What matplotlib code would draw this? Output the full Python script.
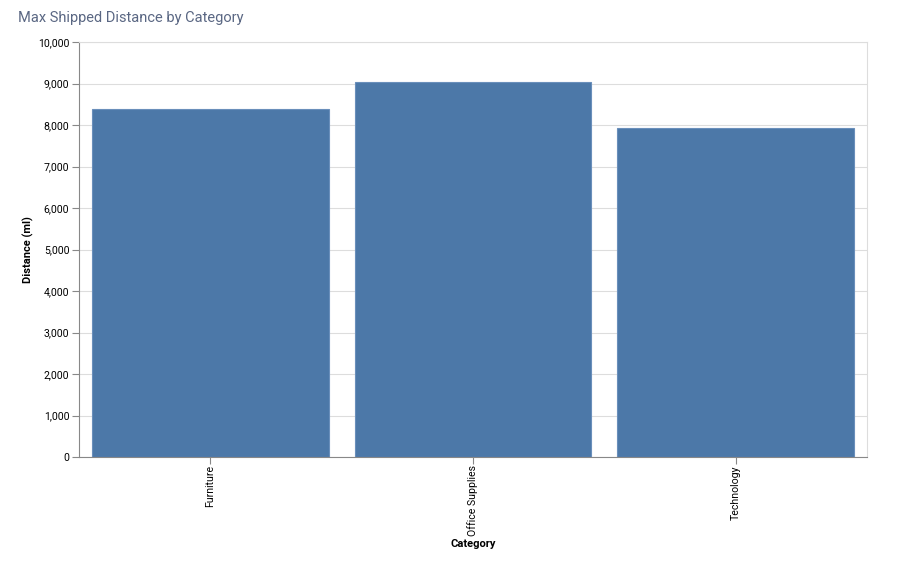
import matplotlib
matplotlib.use('Agg')
import matplotlib.pyplot as plt
from matplotlib.ticker import FuncFormatter, MultipleLocator

categories = ["Furniture", "Office Supplies", "Technology"]
max_distance = [8375, 9040, 7928]

plt.rcParams['font.family'] = ['Roboto', 'DejaVu Sans']

fig = plt.figure(figsize=(9.04, 5.67), dpi=100)
ax = fig.add_axes([79/904, 110/567, 788/904, 415/567])

x = range(len(categories))
ax.bar(x, max_distance, width=0.9, color="#4c78a8", edgecolor="#6a8fbb", linewidth=0.8, zorder=2)

ax.set_xlim(-0.5, len(categories) - 0.5)
ax.set_ylim(0, 10000)
ax.yaxis.set_major_locator(MultipleLocator(1000))
ax.yaxis.set_major_formatter(FuncFormatter(lambda v, p: f"{int(v):,}"))
ax.set_xticks(list(x))
ax.set_xticklabels(categories, rotation=90, fontsize=7.6)
ax.tick_params(axis='y', labelsize=7.6, length=5, width=0.8, color="#888888", pad=2)
ax.tick_params(axis='x', length=5, width=0.8, color="#888888", pad=1)
ax.grid(axis='y', color="#dddddd", linewidth=0.8, zorder=0)
ax.set_axisbelow(True)

for side in ['top', 'right']:
    ax.spines[side].set_color("#dddddd")
    ax.spines[side].set_linewidth(0.8)
for side in ['left', 'bottom']:
    ax.spines[side].set_color("#888888")
    ax.spines[side].set_linewidth(0.8)

ax.set_xlabel("Category", fontsize=8, fontweight='bold', labelpad=2)
ax.set_ylabel("Distance (ml)", fontsize=8, fontweight='bold', labelpad=3)

fig.text(18/904, 1 - 18/567, "Max Shipped Distance by Category", fontsize=10.5,
         color="#5a6783", ha='left', va='center')

fig.savefig("out.png", dpi=100)
